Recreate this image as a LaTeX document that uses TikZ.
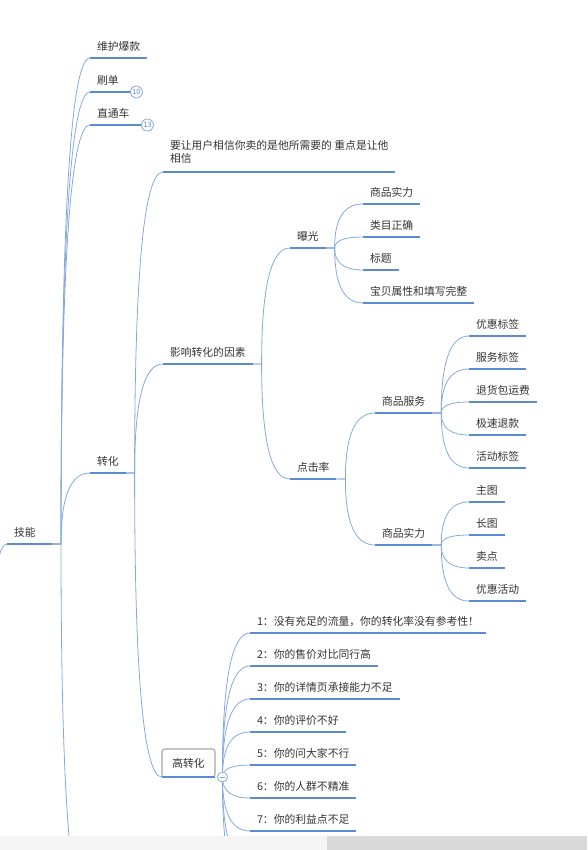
\documentclass[tikz,border=0pt]{standalone}
\usepackage{fontspec}
\newfontfamily\cjk{Noto Sans CJK SC}
\usepackage{tikz}
\usetikzlibrary{positioning,calc,backgrounds}
\definecolor{mmbar}{HTML}{5B8BD3}
\definecolor{mmlink}{HTML}{86A9DD}
\definecolor{mmtext}{HTML}{333333}
\definecolor{mmframe}{HTML}{A6A6A6}

\begin{document}
\begin{tikzpicture}[x=0.75pt, y=-0.75pt,
  topic/.style={anchor=south west, font=\cjk\fontsize{8.1}{9.75}\selectfont, text=mmtext,
                inner xsep=5.25pt, inner ysep=5.2pt, outer sep=0pt,
                text height=6.8pt, text depth=0.8pt},
  boxtopic/.style={anchor=south west, rounded corners=2pt, draw=mmframe, fill=white,
                   line width=0.8pt, outer sep=0pt, minimum width=39.75pt, minimum height=21pt,
                   font=\cjk\fontsize{8.1}{9.75}\selectfont, text=mmtext},
  bar/.style={draw=mmbar, line width=2.2pt},
  link/.style={draw=mmlink, line width=0.6pt},
  badge/.style={circle, draw=mmlink, fill=white, line width=0.6pt, inner sep=0pt,
                minimum size=9pt, font=\cjk\fontsize{5.5}{5.5}\selectfont, text=mmbar},
  fold/.style={circle, draw=mmlink, fill=white, line width=0.6pt, inner sep=0pt,
               minimum size=7.5pt}
]
\useasboundingbox (0,0) rectangle (587,850);
\clip (0,0) rectangle (587,850);

% level 1
\coordinate (rt) at (-5,620);
\node[topic, text width=23.25pt] (jn) at (7,544) {技能};
\node[topic] (wh) at (90,58) {维护爆款};
\node[topic, text width=19.5pt] (sd) at (90,92) {刷单};
\node[topic, text width=27.75pt] (zc) at (90,125) {直通车};
\node[topic] (zh) at (90,473) {转化};
\coordinate (jnlow) at (90,920);

% 转化
\node[topic, inner ysep=6.7pt] (yr) at (163,172)
  {\begin{tabular}[b]{@{}l@{}}要让用户相信你卖的是他所需要的 重点是让他\\相信\end{tabular}};
\node[topic] (ys) at (163,364) {影响转化的因素};
\node[boxtopic] (gzh) at (162,777) {高转化};

% 影响转化的因素
\node[topic] (bg) at (290,248) {曝光};
\node[topic] (djl) at (290,479) {点击率};
\node[topic] (sp) at (363,204) {商品实力};
\node[topic] (lm) at (363,237) {类目正确};
\node[topic] (bt) at (363,270) {标题};
\node[topic] (bb) at (363,303) {宝贝属性和填写完整};
\node[topic] (fw) at (375,413) {商品服务};
\node[topic] (sl) at (375,545) {商品实力};
\node[topic] (yh) at (469,336) {优惠标签};
\node[topic] (fb) at (469,369) {服务标签};
\node[topic] (th) at (469,402) {退货包运费};
\node[topic] (js) at (469,435) {极速退款};
\node[topic] (hd) at (469,468) {活动标签};
\node[topic] (zt) at (469,502) {主图};
\node[topic] (ct) at (469,535) {长图};
\node[topic] (md) at (469,568) {卖点};
\node[topic] (yhd) at (469,601) {优惠活动};

% 高转化
\node[topic] (r1) at (250,633) {1：没有充足的流量，你的转化率没有参考性！};
\node[topic] (r2) at (250,666) {2：你的售价对比同行高};
\node[topic] (r3) at (250,699) {3：你的详情页承接能力不足};
\node[topic] (r4) at (250,732) {4：你的评价不好};
\node[topic] (r5) at (250,765) {5：你的问大家不行};
\node[topic] (r6) at (250,798) {6：你的人群不精准};
\node[topic] (r7) at (250,831) {7：你的利益点不足};
\coordinate (r8) at (250,864);
\coordinate (r9) at (250,897);

% underlines
\foreach \n in {jn,wh,sd,zc,zh,yr,ys,gzh,bg,djl,sp,lm,bt,bb,fw,sl,yh,fb,th,js,hd,zt,ct,md,yhd,r1,r2,r3,r4,r5,r6,r7}
  \draw[bar] (\n.south west) -- (\n.south east);

\node[badge, right=0pt of sd.south east] (sdn) {10};
\node[badge, right=0pt of zc.south east] (zcn) {13};
\node[fold, right=1.5pt of gzh.south east] (cz) {};
\draw[link] ([xshift=-2pt]cz.center) -- ([xshift=2pt]cz.center);

% connectors
\begin{scope}[on background layer]
\draw[link] (rt) .. controls ($(rt)!.67!(rt |- jn.south west)$) and ($(jn.south west)!.67!(rt |- jn.south west)$) .. (jn.south west);
\foreach \p/\c in {jn/wh,jn/sd,jn/zc,jn/zh,zh/yr,zh/ys,zh/gzh,ys/bg,ys/djl,bg/sp,bg/lm,bg/bt,bg/bb,
                   djl/fw,djl/sl,fw/yh,fw/fb,fw/th,fw/js,fw/hd,sl/zt,sl/ct,sl/md,sl/yhd}
  \draw[link] (\p.south east) -- ++(9,0) coordinate (j)
    .. controls ($(j)!.67!(j |- \c.south west)$) and ($(\c.south west)!.67!(j |- \c.south west)$) .. (\c.south west);
\draw[link] (jn.south east) -- ++(9,0) coordinate (j)
  .. controls ($(j)!.67!(j |- jnlow)$) and ($(jnlow)!.67!(j |- jnlow)$) .. (jnlow);
\foreach \k in {1,...,7}
  \draw[link] (cz.center) .. controls ($(cz.center)!.67!(cz.center |- r\k.south west)$)
    and ($(r\k.south west)!.67!(cz.center |- r\k.south west)$) .. (r\k.south west);
\foreach \c in {r8,r9}
  \draw[link] (cz.center) .. controls ($(cz.center)!.67!(cz.center |- \c)$)
    and ($(\c)!.67!(cz.center |- \c)$) .. (\c);
\end{scope}

% scroll bar
\fill[black!4] (0,836) rectangle (327,850);
\fill[black!15] (327,836) rectangle (587,850);
\end{tikzpicture}
\end{document}
